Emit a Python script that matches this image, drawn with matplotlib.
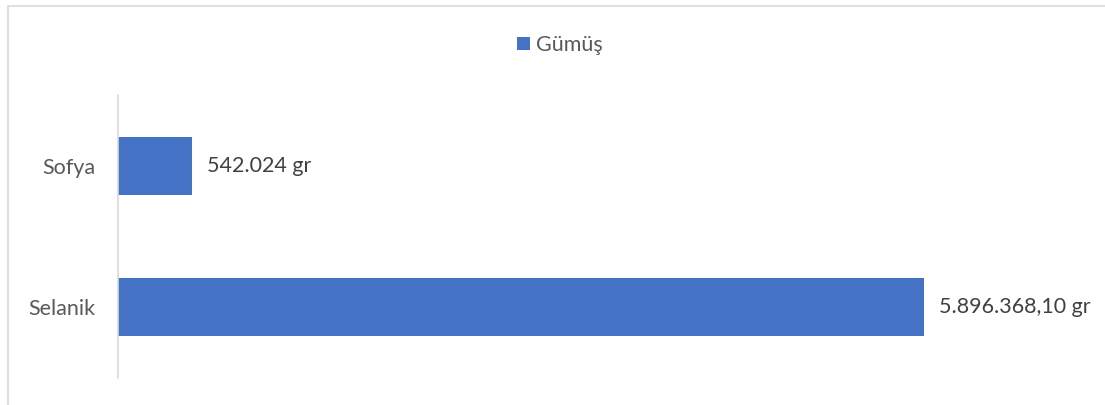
import matplotlib.pyplot as plt
from matplotlib.patches import Rectangle

plt.rcParams['font.family'] = ['Lato', 'DejaVu Sans']

cities = ["Selanik", "Sofya"]
values = [5896368.10, 542024]
labels = ["5.896.368,10 gr", "542.024 gr"]
series = "Gümüş"

blue = "#4472C4"
text_color = "#595959"
fs = 15.5

W, H = 1105, 405
fig = plt.figure(figsize=(W / 100, H / 100), dpi=100)

# outer chart border (cut off at right and bottom)
fig.patches.append(Rectangle((8 / W, -0.05), 1.1, (H - 6) / H + 0.05,
                             transform=fig.transFigure, fill=False,
                             edgecolor="#D9D9D9", linewidth=1.2))

ax_left, ax_right, ax_top, ax_bottom = 118, 1090, 95, 378
ax = fig.add_axes([ax_left / W, 1 - ax_bottom / H,
                   (ax_right - ax_left) / W, (ax_bottom - ax_top) / H])

bars = ax.barh(cities, values, height=0.41, color=blue, label=series)
ax.set_xlim(0, values[0] * (ax_right - ax_left) / 806)
ax.set_ylim(-0.5, 1.5)

for bar, lab in zip(bars, labels):
    ax.annotate(lab, (bar.get_width(), bar.get_y() + bar.get_height() / 2),
                xytext=(11, 0), textcoords="offset points", va="center",
                ha="left", fontsize=fs, color="#404040")

for s in ["top", "right", "bottom"]:
    ax.spines[s].set_visible(False)
ax.spines["left"].set_color("#D9D9D9")
ax.spines["left"].set_linewidth(1.2)
ax.set_xticks([])
ax.tick_params(axis="y", length=0, pad=16, labelsize=fs, labelcolor=text_color)

fig.legend(loc="center", bbox_to_anchor=(560 / W, 1 - 45 / H), frameon=False,
           fontsize=fs, labelcolor=text_color, handlelength=0.6,
           handleheight=0.6, handletextpad=0.3)

fig.savefig("out.png", dpi=100)
